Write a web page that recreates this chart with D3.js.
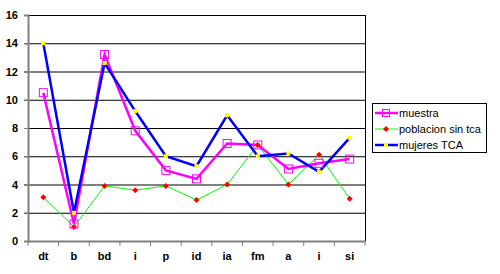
<!DOCTYPE html>
<html><head><meta charset="utf-8">
<script src="https://cdn.jsdelivr.net/npm/d3@7/dist/d3.min.js"></script>
<style>body{margin:0;background:#fff;}svg{display:block;font-family:"Liberation Sans",Arial,sans-serif;}</style>
</head><body>
<svg id="c" width="500" height="274"></svg>
<script>
const categories = ["dt","b","bd","i","p","id","ia","fm","a","i","si"];
const muestra = [10.5,1.2,13.2,7.8,5.0,4.4,6.9,6.8,5.1,5.5,5.8];
const poblacion = [3.1,1.0,3.9,3.6,3.9,2.9,4.0,6.8,4.0,6.1,3.0];
const mujeres = [14.0,2.0,12.6,9.2,6.0,5.3,8.9,6.0,6.2,4.9,7.3];
const yTicks = [0,2,4,6,8,10,12,14,16];
const seriesNames = ["muestra","poblacion sin tca","mujeres TCA"];

const svg = d3.select("#c");
const L = 28, R = 365, T = 15, B = 241;
const x = d3.scaleBand().domain(d3.range(categories.length)).range([L, R]);
const y = d3.scaleLinear().domain([0,16]).range([B, T]);

// gridlines
svg.append("g").selectAll("line").data(yTicks.filter(d=>d>0)).join("line")
  .attr("x1", L-4).attr("x2", R).attr("y1", d=>y(d)+0.5).attr("y2", d=>y(d)+0.5)
  .attr("stroke", d => (d===12||d===4) ? "#808080" : "#000")
  .attr("stroke-width", d => (d===12||d===4) ? 2 : 1);
// right border
svg.append("line").attr("x1", R+0.5).attr("x2", R+0.5).attr("y1", T).attr("y2", B).attr("stroke","#000");

// y axis
const ya = svg.append("g").attr("transform", `translate(${L},0)`)
  .call(d3.axisLeft(y).tickValues(yTicks).tickSize(4).tickPadding(6));
ya.select(".domain").attr("stroke","#808080").attr("stroke-width",2);
ya.selectAll(".tick line").attr("stroke","#808080");
ya.selectAll("text").attr("font-size",11).attr("font-weight","bold").attr("fill","#000");

// x axis
const xa = svg.append("g").attr("transform", `translate(0,${B})`)
  .call(d3.axisBottom(x).tickFormat(i=>categories[i]).tickSize(0).tickPadding(11));
xa.select(".domain").attr("stroke","#808080").attr("stroke-width",2);
xa.selectAll("text").attr("font-size",11).attr("font-weight","bold").attr("fill","#000");
svg.append("g").selectAll("line").data(d3.range(categories.length+1)).join("line")
  .attr("x1", i => i<categories.length ? x(i) : R).attr("x2", i => i<categories.length ? x(i) : R)
  .attr("y1", B).attr("y2", B+5).attr("stroke","#808080").attr("stroke-width",1);

const cx = i => x(i) + x.bandwidth()/2;
const line = d3.line().x((d,i)=>cx(i)).y(d=>y(d));

// poblacion
svg.append("path").datum(poblacion).attr("d", line).attr("fill","none").attr("stroke","#00ff00").attr("stroke-width",1);
// muestra
svg.append("path").datum(muestra).attr("d", line).attr("fill","none").attr("stroke","#ff00ff").attr("stroke-width",2.5);
// mujeres
svg.append("path").datum(mujeres).attr("d", line).attr("fill","none").attr("stroke","#0000ff").attr("stroke-width",2.5);

// markers
svg.append("g").selectAll("path").data(poblacion).join("path")
  .attr("d", (d,i)=>`M${cx(i)},${y(d)-3}L${cx(i)+3},${y(d)}L${cx(i)},${y(d)+3}L${cx(i)-3},${y(d)}Z`)
  .attr("fill","#ff0000");
svg.append("g").selectAll("rect").data(muestra).join("rect")
  .attr("x",(d,i)=>cx(i)-4).attr("y",d=>y(d)-4).attr("width",8).attr("height",8)
  .attr("fill","none").attr("stroke","#ff00ff").attr("stroke-width",1);
svg.append("g").selectAll("rect").data(mujeres).join("rect")
  .attr("x",(d,i)=>cx(i)-2).attr("y",d=>y(d)-2).attr("width",4).attr("height",4)
  .attr("fill","#ffff00");

// legend
const lg = svg.append("g");
lg.append("rect").attr("x",372.5).attr("y",103.5).attr("width",114).attr("height",49)
  .attr("fill","#fff").attr("stroke","#000");
const ly = [113,129,145];
const lcols = ["#ff00ff","#00ff00","#0000ff"];
const lw = [2.5,1,2.5];
seriesNames.forEach((n,k)=>{
  lg.append("line").attr("x1",375).attr("x2",398).attr("y1",ly[k]).attr("y2",ly[k]).attr("stroke",lcols[k]).attr("stroke-width",lw[k]);
  if(k===0) lg.append("rect").attr("x",382.5).attr("y",ly[k]-3.5).attr("width",7).attr("height",7).attr("fill","none").attr("stroke","#ff00ff");
  if(k===1) lg.append("path").attr("d",`M386,${ly[k]-3}L389,${ly[k]}L386,${ly[k]+3}L383,${ly[k]}Z`).attr("fill","#ff0000");
  if(k===2) lg.append("rect").attr("x",384).attr("y",ly[k]-2).attr("width",4).attr("height",4).attr("fill","#ffff00");
  lg.append("text").attr("x",399).attr("y",ly[k]).attr("dy","0.35em").attr("font-size",11).text(n);
});
</script>
</body></html>
